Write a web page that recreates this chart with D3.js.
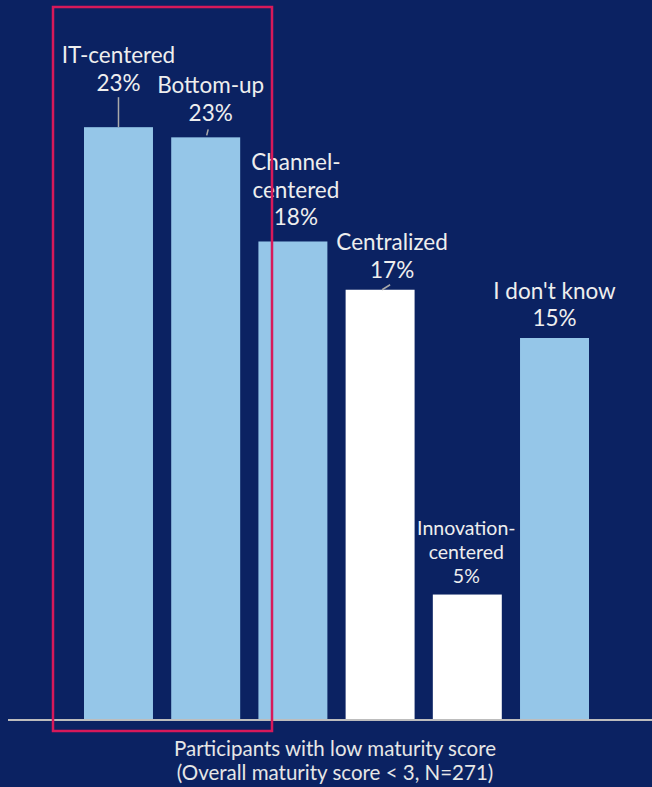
<!DOCTYPE html>
<html>
<head>
<meta charset="utf-8">
<script src="https://cdn.jsdelivr.net/npm/d3@7"></script>
<style>
  html, body { margin: 0; padding: 0; background: #0b2262; }
  svg { display: block; }
  .lbl { fill: #eeeeee; font-family: Lato, "Open Sans", sans-serif; text-anchor: middle; }
  .axis_label { fill: #e6e6e6; font-family: Lato, "Open Sans", sans-serif; text-anchor: middle; font-size: 20.5px; }
</style>
</head>
<body>
<div id="container"><svg></svg></div>
<script>
// data
let categories = ['IT-centered', 'Bottom-up', 'Channel-centered', 'Centralized', 'Innovation-centered', "I don't know"];
let values = [23.3, 22.9, 18.8, 16.9, 4.9, 15.0];
let pct_labels = ['23%', '23%', '18%', '17%', '5%', '15%'];
let name_lines = [['IT-centered'], ['Bottom-up'], ['Channel-', 'centered'], ['Centralized'], ['Innovation-', 'centered'], ["I don't know"]];
let highlighted = ['Centralized', 'Innovation-centered'];
let axis_title = ['Participants with low maturity score', '(Overall maturity score < 3, N=271)'];

let width = 652;
let height = 787;

// label layout per bar: dx from bar center, gap above bar top, font size, line height
let label_dx = [0, 5, 3, 12, -1, 0];
let label_gap = [36, 16, 16, 12, 12, 12];
let label_fs = [22.5, 22.5, 22.5, 22.5, 19.5, 22.5];
let label_lh = [28, 28, 27.5, 27.5, 24, 27.5];

function draw_main() {
    let svg = d3.select('#container').select('svg')
        .attr('width', width)
        .attr('height', height);

    svg.append('rect')
        .attr('width', width).attr('height', height)
        .attr('fill', '#0b2262');

    let baseline = 719;

    let x = d3.scaleBand()
        .domain(categories)
        .range([84, 589])
        .paddingInner(0.209)
        .paddingOuter(0);

    let y = d3.scaleLinear()
        .domain([0, 25])
        .range([baseline, baseline - 25 * 25.4]);

    // bars
    svg.append('g')
        .selectAll('rect')
        .data(categories)
        .enter().append('rect')
        .attr('x', d => x(d))
        .attr('y', (d, i) => y(values[i]))
        .attr('width', x.bandwidth())
        .attr('height', (d, i) => baseline - y(values[i]))
        .attr('fill', d => highlighted.includes(d) ? '#ffffff' : '#95c6e8');

    // baseline
    svg.append('line')
        .attr('x1', 8).attr('x2', width)
        .attr('y1', baseline + 1).attr('y2', baseline + 1)
        .attr('stroke', '#bdbdbd')
        .attr('stroke-width', 2);

    // labels
    let lg = svg.append('g');
    categories.forEach((c, i) => {
        let cx = x(c) + x.bandwidth() / 2 + label_dx[i];
        let lastY = y(values[i]) - label_gap[i];
        let lines = name_lines[i].concat([pct_labels[i]]);
        let n = lines.length;
        lines.forEach((t, j) => {
            lg.append('text')
                .attr('class', 'lbl')
                .attr('x', cx)
                .attr('y', lastY - (n - 1 - j) * label_lh[i])
                .attr('font-size', label_fs[i] + 'px')
                .text(t);
        });
    });

    // leader lines
    let leader = svg.append('g').attr('stroke', '#a9a9a9').attr('stroke-width', 1.5);
    let c0 = x(categories[0]) + x.bandwidth() / 2;
    leader.append('line')
        .attr('x1', c0).attr('x2', c0)
        .attr('y1', y(values[0]) - 30).attr('y2', y(values[0]));
    let c1 = x(categories[1]) + x.bandwidth() / 2;
    leader.append('line')
        .attr('x1', c1 + 1).attr('x2', c1 + 2.5)
        .attr('y1', y(values[1]) - 2).attr('y2', y(values[1]) - 8);
    let c3 = x(categories[3]) + x.bandwidth() / 2;
    leader.append('line')
        .attr('x1', c3 + 2).attr('x2', c3 + 10)
        .attr('y1', y(values[3])).attr('y2', y(values[3]) - 5);

    // axis title
    axis_title.forEach((t, j) => {
        svg.append('text')
            .attr('class', 'axis_label')
            .attr('x', 335)
            .attr('y', 756 + j * 24)
            .text(t);
    });

    // highlight box
    svg.append('rect')
        .attr('x', 53).attr('y', 7)
        .attr('width', 219).attr('height', 724)
        .attr('fill', 'none')
        .attr('stroke', '#d7195a')
        .attr('stroke-width', 2.5);
}

draw_main();
</script>
</body>
</html>
